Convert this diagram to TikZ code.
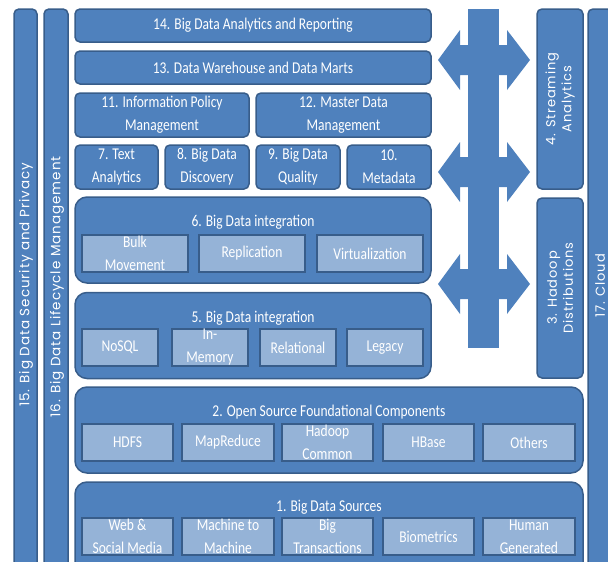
\documentclass[tikz,border=0pt]{standalone}
\usepackage{fontspec}
\setmainfont[FakeStretch=0.82]{Carlito}
\newfontfamily\vfont[LetterSpace=7]{Poppins}
\usepackage{tikz}
\usetikzlibrary{positioning}
\definecolor{midblue}{RGB}{79,129,189}
\definecolor{edgeblue}{RGB}{56,93,138}
\definecolor{liteblue}{RGB}{149,179,215}

\begin{document}
\begin{tikzpicture}[
    x=1pt, y=-1pt,
    every node/.style={font=\fontsize{16.5}{23}\selectfont, text=white, inner sep=0pt},
    panel/.style={rectangle, rounded corners=5pt, draw=edgeblue, line width=1.5pt,
                  fill=midblue, align=center},
    group/.style={panel, rounded corners=12pt, minimum width=#1, minimum height=86pt},
    item/.style={rectangle, draw=edgeblue, line width=1.2pt, fill=liteblue, align=center,
                 minimum width=#1, minimum height=37pt},
    col/.style={panel, rotate=90},
    vtext/.style={rotate=90, align=center, font=\vfont\fontsize{13}{16}\selectfont},
    title/.style={font=\fontsize{16.5}{18}\selectfont},
    flow/.style={fill=midblue}
  ]
  \useasboundingbox (0,0) rectangle (608,562);
  \clip (0,0) rectangle (608,562);

  % side columns
  \node[col, minimum width=566pt, minimum height=23pt] (secur) at (25.5,292) {};
  \node[vtext, font=\vfont\fontsize{13.5}{16}\selectfont] (securtxt) at (26,285) {15. Big Data Security and Privacy};
  \node[col, minimum width=566pt, minimum height=24pt] (life) at (56,292) {};
  \node[vtext, font=\vfont\fontsize{13.5}{16}\selectfont] (lifetxt) at (57,287) {16. Big Data Lifecycle Management};
  \node[col, minimum width=566pt, minimum height=24pt] (cloud) at (600,292) {};
  \node[vtext] (cloudtxt) at (600,286) {17. Cloud};
  \node[col, minimum width=180pt, minimum height=46pt] (stream) at (560,99) {};
  \node[vtext] (streamtxt) at (560,99) {4. Streaming\\Analytics};
  \node[col, minimum width=180pt, minimum height=46pt] (hdist) at (560,288) {};
  \node[vtext] (hdisttxt) at (560,288) {3. Hadoop\\Distributions};

  % upper layers
  \node[panel, minimum width=356pt, minimum height=33pt] (report) at (253,25.5) {14. Big Data Analytics and Reporting};
  \node[panel, minimum width=356pt, minimum height=33pt] (dwh) at (253,67.5) {13. Data Warehouse and Data Marts};
  \node[panel, minimum width=174pt, minimum height=44pt] (policy) at (162,115) {11. Information Policy\\Management};
  \node[panel, minimum width=175pt, minimum height=44pt] (mdm) at (343.5,115) {12. Master Data\\Management};
  \node[panel, minimum width=83pt, minimum height=44pt] (text) at (116.5,167) {7. Text\\Analytics};
  \node[panel, minimum width=84pt, minimum height=44pt] (disc) at (207,167) {8. Big Data\\Discovery};
  \node[panel, minimum width=84pt, minimum height=44pt] (qual) at (298,167) {9. Big Data\\Quality};
  \node[panel, minimum width=84pt, minimum height=44pt] (meta) at (389,167) {10.\\Metadata};

  % integration
  \node[group=356pt] (integ6) at (253,240) {};
  \node[title, below=19pt of integ6.north] (integ6t) {6. Big Data integration};
  \node[item=106pt] (bulk) at (135,253.5) {Bulk\\Movement};
  \node[item=106pt] (repl) at (252,253.5) {Replication};
  \node[item=106pt] (virt) at (370,253.5) {Virtualization};

  \node[group=356pt] (integ5) at (253,335.5) {};
  \node[title, below=19pt of integ5.north] (integ5t) {5. Big Data integration};
  \node[item=76pt] (nosql) at (120,347.5) {NoSQL};
  \node[item=76pt] (inmem) at (210,347.5) {In-\\Memory};
  \node[item=76pt] (relat) at (298,347.5) {Relational};
  \node[item=76pt] (legacy) at (385,347.5) {Legacy};

  % foundation
  \node[group=508pt] (found) at (329,430) {};
  \node[title, below=19pt of found.north] (foundt) {2. Open Source Foundational Components};
  \node[item=91pt] (hdfs) at (127.5,442.5) {HDFS};
  \node[item=92pt] (mapred) at (228,442.5) {MapReduce};
  \node[item=91pt] (hcommon) at (327.5,442.5) {Hadoop\\Common};
  \node[item=91pt] (hbase) at (428.5,442.5) {HBase};
  \node[item=92pt] (others) at (529,442.5) {Others};

  \node[group=508pt, minimum height=96pt] (src) at (329,530) {};
  \node[title, below=19pt of src.north] (srct) {1. Big Data Sources};
  \node[item=91pt] (web) at (127.5,536.5) {Web \&\\Social Media};
  \node[item=92pt] (m2m) at (228,536.5) {Machine to\\Machine};
  \node[item=91pt] (trans) at (327.5,536.5) {Big\\Transactions};
  \node[item=91pt] (bio) at (428.5,536.5) {Biometrics};
  \node[item=92pt] (human) at (529,536.5) {Human\\Generated};

  % exchange arrows
  \fill[flow] (468,9) rectangle (499,348);
  \foreach \c in {60,172,284}
    \fill[flow] (438,\c) -- (460,\c-30) -- (460,\c-15) -- (507,\c-15) -- (507,\c-30)
      -- (530,\c) -- (507,\c+30) -- (507,\c+15) -- (460,\c+15) -- (460,\c+30) -- cycle;

\end{tikzpicture}
\end{document}
